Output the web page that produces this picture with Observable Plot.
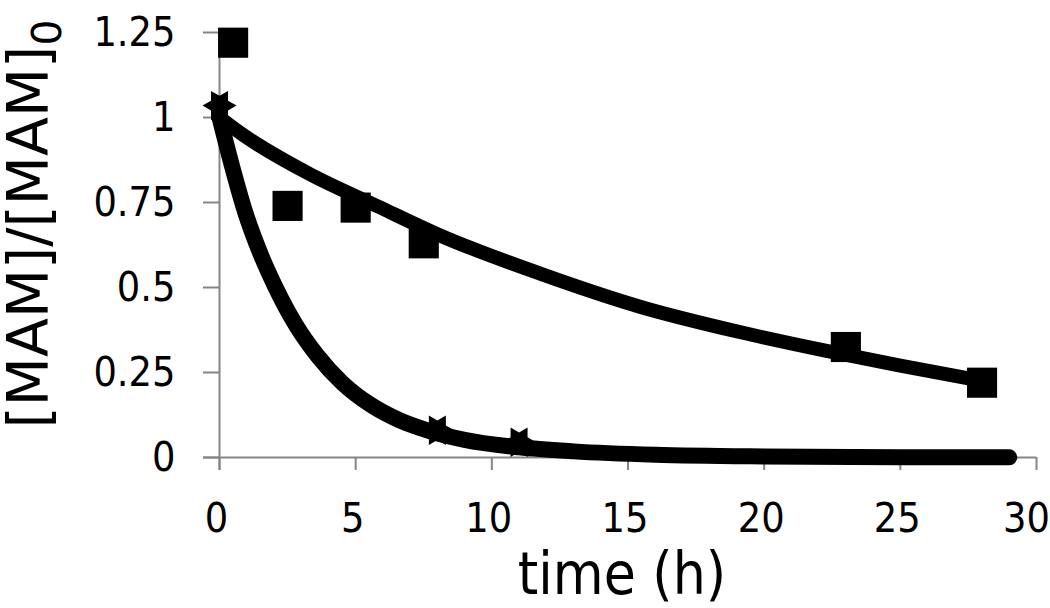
<!DOCTYPE html>
<html><head><meta charset="utf-8">
<script src="https://cdn.jsdelivr.net/npm/d3@7"></script>
<script src="https://cdn.jsdelivr.net/npm/@observablehq/plot@0.6"></script>
<style>html,body{margin:0;padding:0;background:#fff} svg{display:block}</style>
</head><body><div id="chart"></div>
<script>
// measured points (squares)
const squareTime = [0.5, 2.5, 5, 7.5, 23, 28];
const squareRatio = [1.22, 0.74, 0.735, 0.63, 0.325, 0.22];
// measured points (stars)
const starTime = [0, 8, 11];
const starRatio = [1.035, 0.08, 0.045];
// slow fitted curve
const slowFitTime = [0, 0.9, 3.3, 5.8, 8.1, 11.8, 15.5, 19.1, 22.2, 25, 28];
const slowFitRatio = [1.0, 0.947, 0.834, 0.739, 0.653, 0.54, 0.442, 0.369, 0.315, 0.27, 0.225];
// fast fitted curve
const fastFitTime = [0, 0.45, 0.95, 1.5, 2.06, 2.8, 3.59, 4.5, 5.55, 6.6, 7.63, 9, 11, 13, 16, 20, 25, 29];
const fastFitRatio = [1.0, 0.86, 0.72, 0.60, 0.5, 0.39, 0.30, 0.22, 0.155, 0.11, 0.08, 0.052, 0.03, 0.018, 0.008, 0.003, 0.001, 0.0005];
// ticks
const xTicks = [0, 5, 10, 15, 20, 25, 30];
const yTicks = [0, 0.25, 0.5, 0.75, 1, 1.25];
const yTickLabels = ["0", "0.25", "0.5", "0.75", "1", "1.25"];
const xLabel = "time (h)";
const yLabel = "[MAM]/[MAM]";
const yLabelSub = "0";

const squares = squareTime.map((t, i) => ({t, r: squareRatio[i]}));
const stars = starTime.map((t, i) => ({t, r: starRatio[i]}));
const slowFit = slowFitTime.map((t, i) => ({t, r: slowFitRatio[i]}));
const fastFit = fastFitTime.map((t, i) => ({t, r: fastFitRatio[i]}));

const hexagram = {
  draw(context, size) {
    const R = Math.sqrt(size / Math.PI);
    const r = R / Math.sqrt(3);
    for (let i = 0; i < 12; i++) {
      const a = i * Math.PI / 6;
      const rr = i % 2 === 0 ? R : r;
      const x = rr * Math.cos(a), y = rr * Math.sin(a);
      if (i === 0) context.moveTo(x, y); else context.lineTo(x, y);
    }
    context.closePath();
  }
};

const axisGray = "#858585";
const tickFont = "DejaVu Sans Condensed";
const lastX = xTicks[xTicks.length - 1];

const chart = Plot.plot({
  width: 1050,
  height: 608,
  marginLeft: 219,
  marginRight: 14,
  marginTop: 32,
  marginBottom: 151,
  style: {fontFamily: "DejaVu Sans", background: "white", overflow: "visible"},
  x: {domain: [0, 30]},
  y: {domain: [0, 1.25]},
  marks: [
    // x tick marks only
    Plot.axisX({ticks: xTicks, tickSize: 13, stroke: axisGray, strokeWidth: 2, label: null, tickFormat: () => ""}),
    // x tick labels only
    Plot.axisX({ticks: xTicks.filter(d => d !== lastX), tickSize: 0, tickPadding: 45, fontSize: 41, fontFamily: tickFont, fill: "black", label: null, dx: -3, tickFormat: d => String(d)}),
    Plot.axisX({ticks: [lastX], tickSize: 0, tickPadding: 45, fontSize: 41, fontFamily: tickFont, fill: "black", label: null, dx: -10, tickFormat: d => String(d)}),
    Plot.axisY({ticks: yTicks, tickSize: 16, tickPadding: 28, fontSize: 41, fontFamily: tickFont, stroke: axisGray, strokeWidth: 2, fill: "black", label: null, tickFormat: d => yTickLabels[yTicks.indexOf(d)]}),
    Plot.ruleY([0], {stroke: axisGray, strokeWidth: 2, insetLeft: -16}),
    Plot.ruleX([0], {stroke: axisGray, strokeWidth: 2, insetBottom: -13, insetTop: -4}),
    Plot.line(slowFit, {x: "t", y: "r", curve: "monotone-x", stroke: "black", strokeWidth: 14}),
    Plot.line(fastFit, {x: "t", y: "r", curve: "monotone-x", stroke: "black", strokeWidth: 16}),
    Plot.dot(squares, {x: "t", y: "r", symbol: "square", r: 17, fill: "black", stroke: "none"}),
    Plot.dot(stars, {x: "t", y: "r", symbol: hexagram, r: 17, fill: "black", stroke: "none"}),
    Plot.text([xLabel], {text: d => d, frameAnchor: "bottom", fontSize: 58, fontFamily: tickFont, dx: -6, dy: 136, fill: "black"}),
    Plot.text([yLabel], {text: d => d, frameAnchor: "bottom-left", rotate: -90, textAnchor: "start", fontSize: 57, dx: -172, dy: -29, fill: "black"}),
    Plot.text([yLabelSub], {text: d => d, frameAnchor: "bottom-left", rotate: -90, textAnchor: "start", fontSize: 41, dx: -159, dy: -412, fill: "black"})
  ]
});
document.getElementById("chart").appendChild(chart);
</script>
</body></html>
